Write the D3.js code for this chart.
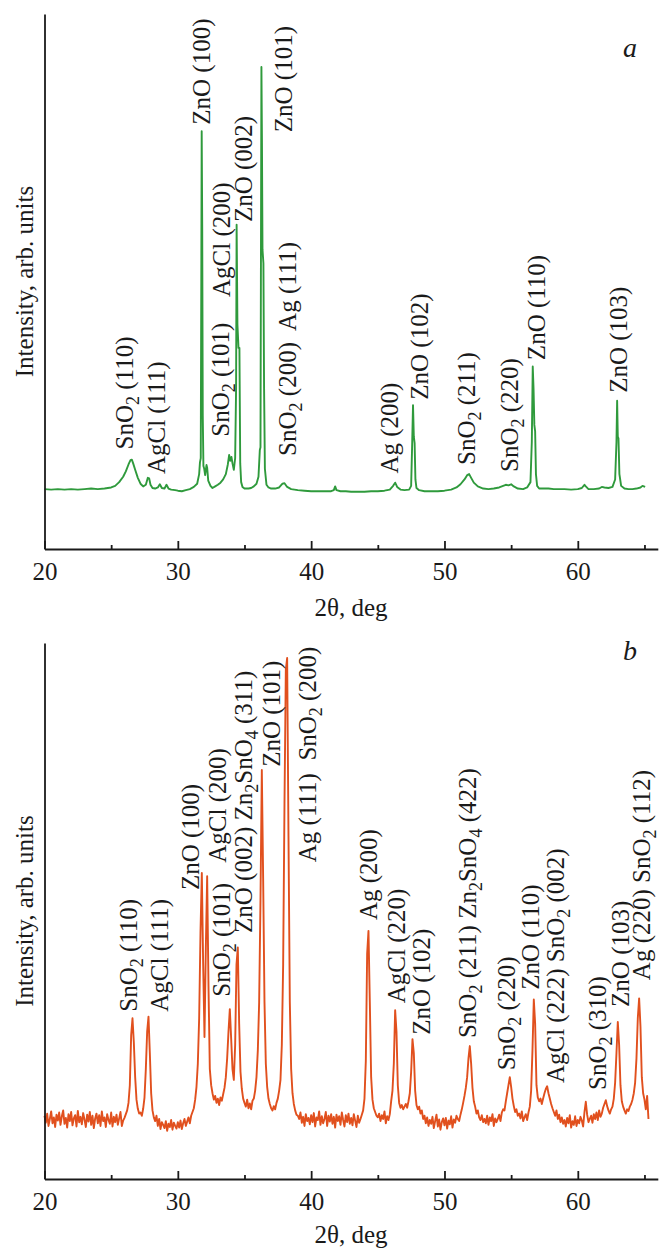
<!DOCTYPE html>
<html>
<head>
<meta charset="utf-8">
<script src="https://cdn.jsdelivr.net/npm/d3@7"></script>
<style>
  body { margin: 0; background: #fff; }
  svg { display: block; }
  text { font-family: "Liberation Serif", "DejaVu Serif", serif; fill: #1a1a1a; }
</style>
</head>
<body>
<div id="chart"></div>
<script>
// ---- data ----
const twoThetaMajorTicks = [20, 30, 40, 50, 60];
const twoThetaMinorTicks = [25, 35, 45, 55, 65];

// pattern a: [2theta, intensity (arb.)]
const patternA = [
  [20.0,112],[20.5,111],[21.0,112],[21.5,111],[22.0,112],[22.5,111],[23.0,112],[23.5,113],[24.0,112],[24.5,113],
  [25.0,115],[25.3,118],[25.6,125],[25.9,135],[26.1,145],[26.3,158],[26.45,166],[26.55,167],[26.65,160],[26.8,148],
  [27.0,133],[27.2,122],[27.4,117],[27.6,120],[27.75,133],[27.85,132],[27.95,120],[28.1,114],[28.3,113],[28.5,115],
  [28.65,121],[28.8,114],[29.0,113],[29.15,120],[29.3,113],[29.5,111],[29.8,110],[30.0,109],[30.3,108],[30.6,110],
  [30.9,112],[31.2,116],[31.45,122],[31.6,140],[31.66,162],[31.72,170],[31.76,500],[31.79,781],[31.83,600],[31.87,250],
  [31.92,155],[31.98,150],[32.05,138],[32.15,157],[32.2,152],[32.28,128],[32.45,118],[32.6,114],[32.8,117],[33.0,120],
  [33.2,124],[33.4,130],[33.6,140],[33.75,158],[33.85,176],[33.93,165],[34.02,172],[34.1,160],[34.2,148],[34.3,170],
  [34.37,300],[34.41,606],[34.47,420],[34.55,376],[34.62,376],[34.68,160],[34.75,125],[34.85,116],[35.0,113],[35.3,113],
  [35.5,114],[35.7,117],[35.9,122],[36.05,135],[36.15,185],[36.2,190],[36.23,500],[36.27,901],[36.31,760],[36.35,560],
  [36.42,534],[36.47,300],[36.53,150],[36.65,120],[36.8,115],[37.0,113],[37.3,113],[37.6,115],[37.85,122],[38.0,123],
  [38.2,116],[38.5,112],[39.0,110],[39.5,109],[40.0,108],[40.5,108],[41.0,108],[41.5,108],[41.7,110],[41.8,117],
  [41.9,110],[42.2,108],[42.6,108],[43.0,107],[43.5,107],[44.0,107],[44.5,108],[45.0,108],[45.5,109],[45.9,111],
  [46.15,118],[46.3,124],[46.45,116],[46.7,111],[47.0,110],[47.35,111],[47.5,118],[47.58,200],[47.64,269],[47.7,210],
  [47.76,198],[47.82,130],[47.9,114],[48.1,110],[48.5,108],[49.0,108],[49.5,108],[50.0,109],[50.5,111],[50.9,115],
  [51.2,121],[51.5,130],[51.7,138],[51.85,140],[52.0,133],[52.2,124],[52.5,117],[52.9,113],[53.3,112],[53.7,113],
  [54.1,115],[54.4,118],[54.6,120],[54.8,119],[55.0,121],[55.2,117],[55.5,113],[55.9,112],[56.2,115],[56.45,125],
  [56.55,200],[56.62,341],[56.68,300],[56.74,232],[56.8,220],[56.86,140],[56.95,118],[57.1,113],[57.4,113],[57.8,113],
  [58.2,112],[58.6,112],[59.0,112],[59.5,111],[60.0,112],[60.3,114],[60.5,120],[60.6,117],[60.8,112],[61.2,112],
  [61.6,113],[61.8,116],[62.0,115],[62.3,114],[62.6,116],[62.8,130],[62.9,200],[62.95,277],[63.0,210],[63.05,207],
  [63.12,140],[63.25,118],[63.5,113],[63.8,112],[64.1,112],[64.4,113],[64.7,115],[64.85,118],[64.95,117],[65.05,116]
];

// pattern b: intensities (arb.) every 0.1 deg starting at 20.0 deg
const patternBStart = 20.0;
const patternBStep = 0.1;
const patternB = [
  118,105,122,99,112,126,104,115,97,120,    // 20
  109,124,101,117,128,103,114,96,121,108,   // 21
  125,100,113,119,98,127,106,116,102,123,   // 22
  111,97,120,107,125,101,118,95,113,122,    // 23
  104,119,99,126,108,115,97,121,110,103,    // 24
  124,98,116,106,120,101,113,125,99,109,    // 25
  114,121,128,142,175,268,300,255,190,148,  // 26
  131,122,124,118,131,152,205,275,303,235,  // 27
  160,128,115,108,118,99,112,93,106,101,    // 28
  95,108,90,103,97,110,92,105,99,94,        // 29
  106,96,109,93,104,112,99,107,115,104,     // 30
  118,125,132,148,172,215,300,460,571,400,  // 31
  265,430,565,360,205,175,160,148,155,142,  // 32
  150,138,152,146,158,170,190,225,275,317,  // 33
  262,205,185,250,400,432,290,200,168,150,  // 34
  142,135,148,132,141,130,146,150,165,190,  // 35
  240,330,520,763,560,330,215,172,150,140,  // 36
  132,128,136,130,142,150,165,185,250,400,  // 37
  700,950,972,640,330,205,160,140,128,120,  // 38
  118,112,124,105,116,99,121,108,114,102,   // 39
  119,106,123,98,115,110,126,101,117,104,   // 40
  112,125,99,118,107,121,103,116,96,120,    // 41
  108,117,101,124,110,98,119,106,122,103,   // 42
  114,100,121,109,97,118,105,112,120,128,   // 43
  150,220,420,463,330,190,148,132,125,118,  // 44
  115,122,108,119,112,126,104,117,110,121,  // 45
  145,165,215,315,275,175,142,133,138,130,  // 46
  135,140,133,145,160,200,261,235,165,138,  // 47
  130,135,122,128,112,118,104,115,99,110,   // 48
  103,116,95,108,120,98,111,92,106,113,     // 49
  100,114,94,109,102,117,96,111,105,118,    // 50
  112,108,120,130,142,155,170,190,225,248,  // 51
  215,170,145,135,122,128,115,110,119,106,  // 52
  112,104,118,101,115,108,121,99,113,106,   // 53
  112,120,108,124,130,128,145,160,175,190,  // 54
  172,150,136,125,130,118,122,113,126,108,  // 55
  115,121,110,124,135,165,240,335,290,175,  // 56
  152,145,150,140,150,160,168,173,160,150,  // 57
  140,132,125,118,128,112,120,106,115,103,  // 58
  110,98,114,104,119,96,108,101,117,99,     // 59
  110,104,116,109,98,125,144,120,106,112,   // 60
  118,105,121,112,124,110,128,116,122,133,  // 61
  140,147,136,128,122,130,135,150,180,235,  // 62
  293,250,175,145,135,128,122,130,127,135,  // 63
  140,148,160,180,225,300,337,285,190,160,  // 64
  148,130,155,112                           // 65
];

// peak labels (text, 2theta of label baseline, intensity where text starts)
const labelTextA = ["SnO_2 (110)", "AgCl (111)", "ZnO (100)", "AgCl (200)", "ZnO (002)", "ZnO (101)",
  "SnO_2 (101)", "SnO_2 (200)  Ag (111)", "Ag (200)", "ZnO (102)", "SnO_2 (211)", "SnO_2 (220)",
  "ZnO (110)", "ZnO (103)"];
const labelTwoThetaA = [26.64, 29.04, 32.41, 33.91, 35.56, 38.56, 33.84, 38.86, 46.51, 48.76, 52.29, 55.51, 57.54, 63.69];
const labelIntensityA = [186, 140, 793, 471, 611, 779, 210, 174, 141, 279, 157, 144, 353, 292];

const labelTextB = ["SnO_2 (110)", "AgCl (111)", "ZnO (100)", "AgCl (200)", "SnO_2 (101)",
  "ZnO (002) Zn_2SnO_4 (311)", "ZnO (101)", "Ag (111)  SnO_2 (200)", "Ag (200)", "AgCl (220)",
  "ZnO (102)", "SnO_2 (211) Zn_2SnO_4 (422)", "SnO_2 (220)", "ZnO (110)", "AgCl (222) SnO_2 (002)",
  "SnO_2 (310)", "ZnO (103)", "Ag (220) SnO_2 (112)"];
const labelTwoThetaB = [26.94, 29.26, 31.59, 33.61, 33.91, 35.56, 37.66, 40.36, 44.94, 47.04,
  48.91, 52.36, 55.29, 57.09, 58.96, 62.11, 63.84, 65.42];
const labelIntensityB = [312, 312, 539, 590, 340, 459, 769, 591, 483, 328,
  269, 263, 203, 353, 179, 166, 321, 371];

// ---- drawing ----
const width = 660, height = 1249;
const labelSize = 25;

const svg = d3.select("#chart").append("svg")
  .attr("width", width)
  .attr("height", height);

const x = d3.scaleLinear().domain([20, 66]).range([44.5, 657.8]);

function addLabel(g, str, px, py, size) {
  const t = g.append("text")
    .attr("transform", `translate(${px},${py}) rotate(-90)`)
    .attr("xml:space", "preserve")
    .style("white-space", "pre")
    .style("font-size", size + "px");
  const parts = str.split(/_(\d)/);
  let shifted = false;
  parts.forEach((p, i) => {
    if (!p) return;
    const ts = t.append("tspan").text(p);
    if (i % 2 === 1) {
      ts.attr("dy", size * 0.25).style("font-size", (size * 0.72) + "px");
      shifted = true;
    } else if (shifted) {
      ts.attr("dy", -size * 0.25);
      shifted = false;
    }
  });
}

function drawPanel(cfg) {
  const y = d3.scaleLinear().domain([0, 1000]).range([cfg.bottom, cfg.top]);
  const g = svg.append("g");

  // trace
  g.append("path")
    .datum(cfg.points)
    .attr("fill", "none")
    .attr("stroke", cfg.color)
    .attr("stroke-width", cfg.lineWidth)
    .attr("stroke-linejoin", "round")
    .attr("d", d3.line().x(d => x(d[0])).y(d => y(d[1])));

  // x axis: major ticks with labels, minor ticks without
  const xAxisMajor = d3.axisBottom(x)
    .tickValues(twoThetaMajorTicks)
    .tickSizeInner(-8)
    .tickSizeOuter(0)
    .tickPadding(13)
    .tickFormat(d3.format("d"));
  const gx = g.append("g")
    .attr("transform", `translate(0,${cfg.bottom})`)
    .call(xAxisMajor);
  gx.selectAll("text").style("font-size", "25px").attr("fill", "#1a1a1a");

  const xAxisMinor = d3.axisBottom(x)
    .tickValues(twoThetaMinorTicks)
    .tickSizeInner(-4)
    .tickSizeOuter(0)
    .tickFormat("");
  g.append("g")
    .attr("transform", `translate(0,${cfg.bottom})`)
    .call(xAxisMinor)
    .select(".domain").remove();

  // y axis: bare line
  g.append("g")
    .attr("transform", `translate(${x(20)},0)`)
    .call(d3.axisLeft(y).tickValues([]).tickSizeOuter(0));

  g.selectAll(".domain, .tick line")
    .attr("stroke", "#1a1a1a")
    .attr("stroke-width", 1.8);

  // axis titles
  g.append("text")
    .attr("x", 351)
    .attr("y", cfg.bottom + cfg.titleDy)
    .attr("text-anchor", "middle")
    .style("font-size", "25px")
    .text("2θ, deg");

  g.append("text")
    .attr("transform", `translate(32.5,${(cfg.top + cfg.bottom) / 2}) rotate(-90)`)
    .attr("text-anchor", "middle")
    .style("font-size", "25px")
    .text("Intensity, arb. units");

  // panel letter
  g.append("text")
    .attr("x", 630)
    .attr("y", cfg.top + cfg.letterDy)
    .attr("text-anchor", "middle")
    .style("font-size", "28px")
    .style("font-style", "italic")
    .text(cfg.letter);

  // peak labels
  const lg = g.append("g");
  cfg.labelText.forEach((s, i) => {
    addLabel(lg, s, x(cfg.labelTwoTheta[i]), y(cfg.labelIntensity[i]), labelSize);
  });
}

drawPanel({
  points: patternA,
  top: 14, bottom: 549,
  color: "#2f9a3c", lineWidth: 1.9,
  letter: "a", letterDy: 43, titleDy: 67,
  labelText: labelTextA, labelTwoTheta: labelTwoThetaA, labelIntensity: labelIntensityA
});

drawPanel({
  points: patternB.map((v, i) => [patternBStart + i * patternBStep, v]),
  top: 643, bottom: 1179,
  color: "#e1501e", lineWidth: 1.9,
  letter: "b", letterDy: 17, titleDy: 64,
  labelText: labelTextB, labelTwoTheta: labelTwoThetaB, labelIntensity: labelIntensityB
});
</script>
</body>
</html>
